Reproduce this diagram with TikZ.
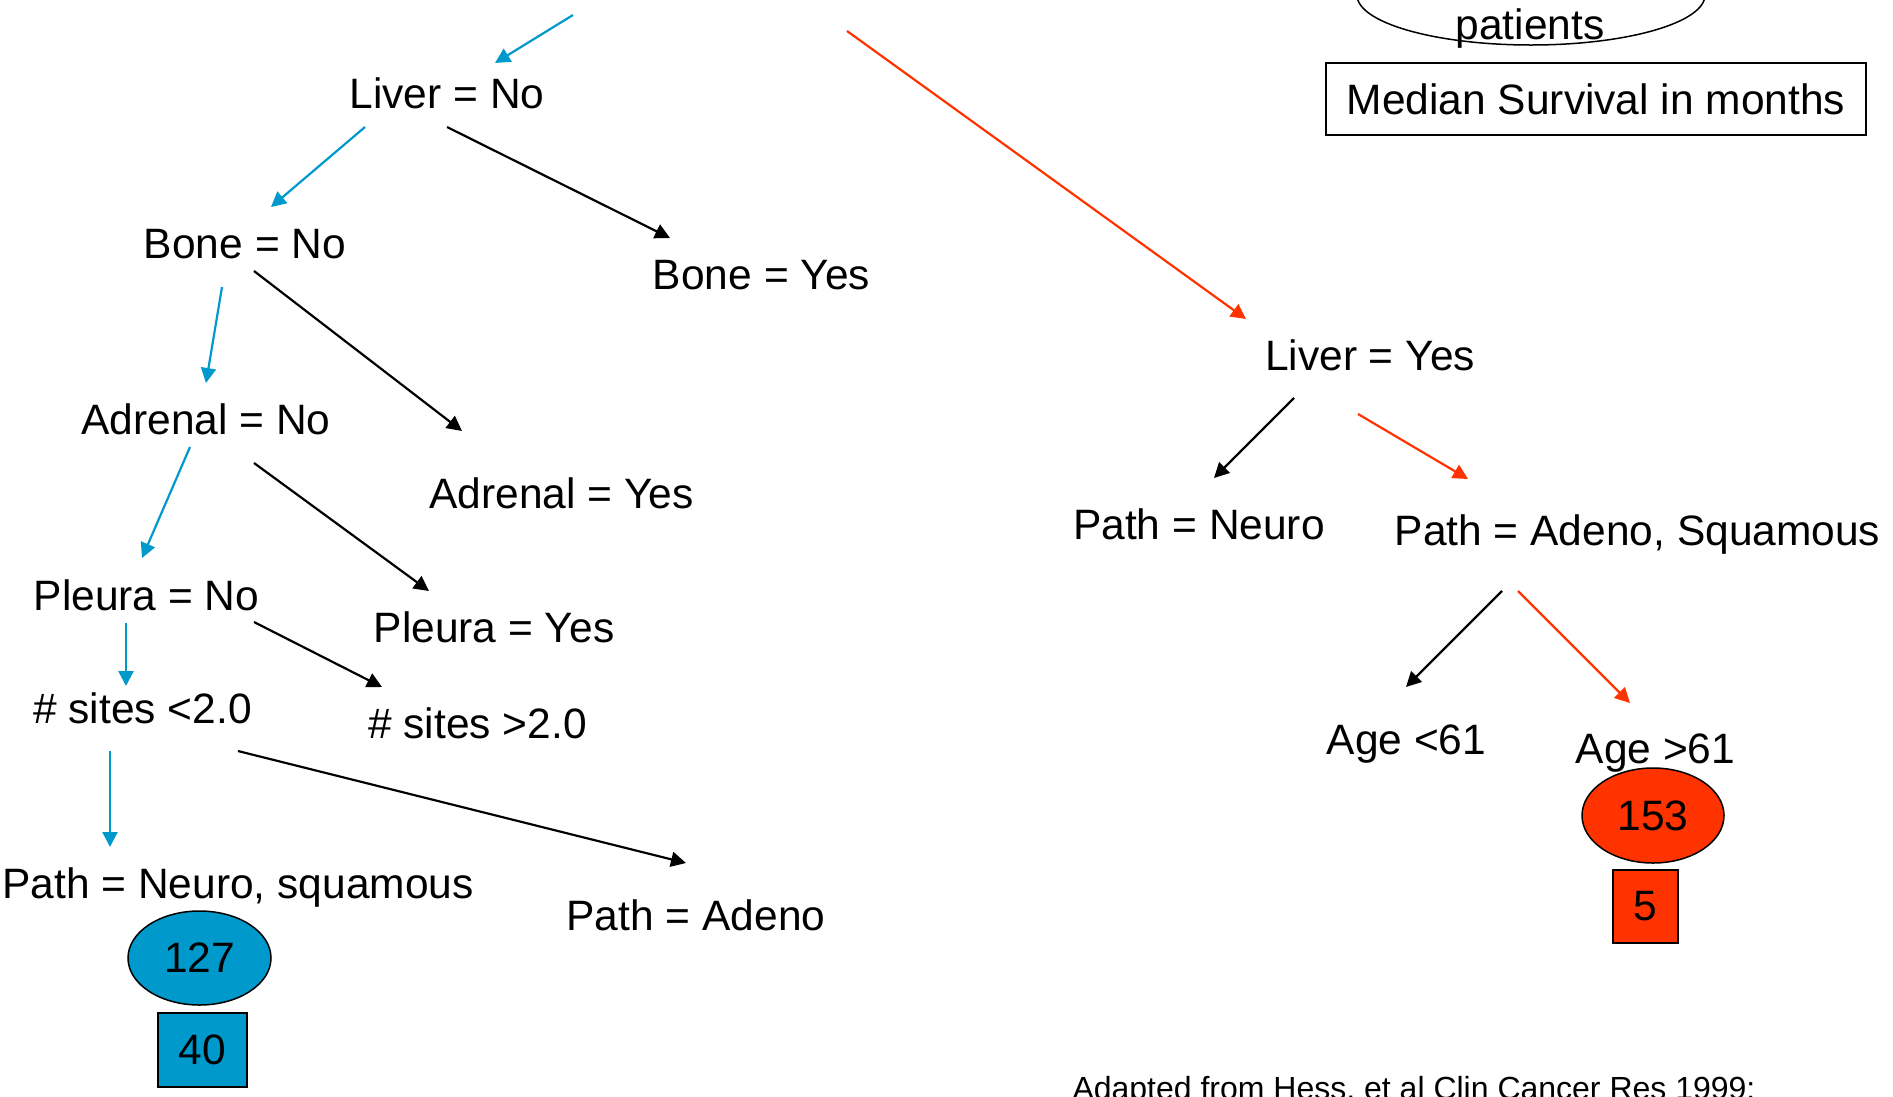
\documentclass[tikz,border=0pt]{standalone}
\usepackage{fontspec}
\setmainfont{Liberation Sans}
\usetikzlibrary{arrows.meta,shapes.geometric}
\definecolor{tblue}{HTML}{0099CC}
\definecolor{tred}{HTML}{FF3300}
\begin{document}
\begin{tikzpicture}[x=1pt,y=-1pt,
  lbl/.style={anchor=base,inner sep=0pt,font=\fontsize{42.5}{50}\selectfont},
  conn/.style={line width=2.2pt,-{Triangle[length=15pt,width=15pt]}},
  bconn/.style={conn,color=tblue},
  kconn/.style={conn,color=black},
  rconn/.style={conn,color=tred},
  ovalbox/.style={draw,ellipse,line width=1.5pt,inner sep=0pt,font=\fontsize{42.5}{50}\selectfont},
  sqbox/.style={draw,line width=2pt,inner sep=0pt,font=\fontsize{42.5}{50}\selectfont}
]
\clip (0,0) rectangle (1893,1096);
\fill[white] (0,0) rectangle (1893,1096);

% legend
\node[ovalbox,minimum width=348pt,minimum height=100pt] (legell) at (1531,-5) {};
\node[lbl] (patients) at (1530,39) {patients};
\node[sqbox,minimum width=540pt,minimum height=72pt] (legbox) at (1596,99) {Median Survival in months};

% free ends of the top connectors (parent off picture)
\coordinate (rootL) at (573,15);
\coordinate (rootR) at (847,31);

% text nodes
\node[lbl] (liverno) at (447,108) {Liver = No};
\node[lbl] (boneno) at (245,258) {Bone = No};
\node[lbl] (boneyes) at (761.5,289) {Bone = Yes};
\node[lbl] (liveryes) at (1370,370) {Liver = Yes};
\node[lbl] (adrenalno) at (206,434) {Adrenal = No};
\node[lbl] (adrenalyes) at (561.5,508) {Adrenal = Yes};
\node[lbl] (pathneuro) at (1199,539) {Path = Neuro};
\node[lbl] (pathadsq) at (1637.5,545) {Path = Adeno, Squamous};
\node[lbl] (pleurano) at (146.5,610) {Pleura = No};
\node[lbl] (pleurayes) at (494,642) {Pleura = Yes};
\node[lbl] (siteslt) at (142.5,723) {\# sites <2.0};
\node[lbl] (sitesgt) at (477.5,738) {\# sites >2.0};
\node[lbl] (agelt) at (1406.5,754) {Age <61};
\node[lbl] (agegt) at (1655.5,763) {Age >61};
\node[lbl] (pathnsq) at (238,898) {Path = Neuro, squamous};
\node[lbl] (pathadeno) at (696,930) {Path = Adeno};

% result nodes
\node[ovalbox,fill=tblue,minimum width=143pt,minimum height=94pt] (e127) at (199.5,958) {127};
\node[sqbox,fill=tblue,minimum width=89pt,minimum height=74pt] (b40) at (202.5,1050) {40};
\node[ovalbox,fill=tred,minimum width=142pt,minimum height=95pt] (e153) at (1653,815.5) {153};
\node[sqbox,fill=tred,minimum width=65pt,minimum height=73pt] (b5) at (1645.5,906.5) {5};

% footer
\node[anchor=base,inner sep=0pt,font=\fontsize{32}{38}\selectfont] (foot) at (1414,1099) {Adapted from Hess, et al Clin Cancer Res 1999:};

% connectors
\draw[bconn] (rootL) -- ([shift={(48,-45)}]liverno.base);
\draw[rconn] (rootR) -- ([shift={(-124,-51)}]liveryes.base);
\draw[bconn] ([shift={(-82,19)}]liverno.base) -- ([shift={(26,-51)}]boneno.base);
\draw[kconn] ([shift={(0,19)}]liverno.base) -- ([shift={(-91.5,-51)}]boneyes.base);
\draw[bconn] ([shift={(-23,29)}]boneno.base) -- ([shift={(0,-51)}]adrenalno.base);
\draw[kconn] ([shift={(9,13)}]boneno.base) -- ([shift={(-99.5,-77)}]adrenalyes.base);
\draw[bconn] ([shift={(-16,13)}]adrenalno.base) -- ([shift={(-4.5,-52)}]pleurano.base);
\draw[kconn] ([shift={(48,29)}]adrenalno.base) -- ([shift={(-65,-51)}]pleurayes.base);
\draw[bconn] ([shift={(-20.5,13)}]pleurano.base) -- ([shift={(-16.5,-37)}]siteslt.base);
\draw[kconn] ([shift={(107.5,12)}]pleurano.base) -- ([shift={(-95.5,-51)}]sitesgt.base);
\draw[bconn] ([shift={(-32.5,28)}]siteslt.base) -- ([shift={(-128,-51)}]pathnsq.base);
\draw[kconn] ([shift={(95.5,28)}]siteslt.base) -- ([shift={(-10,-67)}]pathadeno.base);
\draw[kconn] ([shift={(-76,28)}]liveryes.base) -- ([shift={(15,-61)}]pathneuro.base);
\draw[rconn] ([shift={(-12,44)}]liveryes.base) -- ([shift={(-169.5,-66)}]pathadsq.base);
\draw[kconn] ([shift={(-135.5,46)}]pathadsq.base) -- ([shift={(-0.5,-67)}]agelt.base);
\draw[rconn] ([shift={(-119.5,46)}]pathadsq.base) -- ([shift={(-25.5,-60)}]agegt.base);
\end{tikzpicture}
\end{document}
